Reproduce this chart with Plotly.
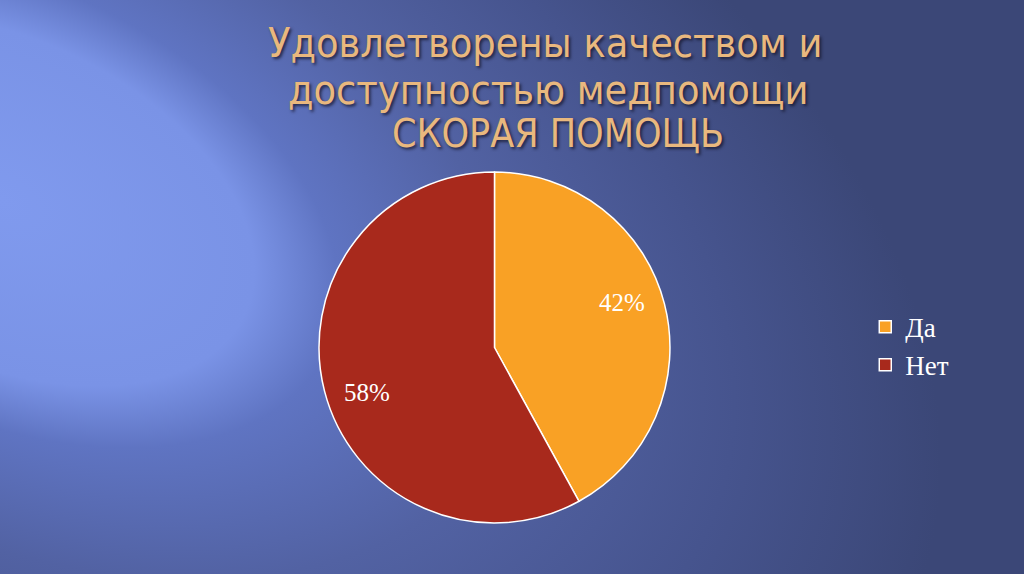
import math
import plotly.graph_objects as go
import urllib.parse

labels = ["Да", "Нет"]
values = [42, 58]
colors = ["#F9A125", "#A8291C"]
title_lines = ["Удовлетворены качеством и", "доступностью медпомощи", "СКОРАЯ ПОМОЩЬ"]

svg = """<svg xmlns='http://www.w3.org/2000/svg' width='1024' height='574' viewBox='0 0 1024 574' preserveAspectRatio='none'>
<defs>
<radialGradient id='g' gradientUnits='userSpaceOnUse' cx='0' cy='200' r='1000'
 gradientTransform='translate(0 200) rotate(25) scale(1 0.6) translate(0 -200)'>
<stop offset='0' stop-color='#809aee'/>
<stop offset='0.27' stop-color='#7a93e6'/>
<stop offset='0.36' stop-color='#5f74c2'/>
<stop offset='0.55' stop-color='#5262a3'/>
<stop offset='0.78' stop-color='#46548e'/>
<stop offset='1' stop-color='#3b4777'/>
</radialGradient>
</defs>
<rect width='1024' height='574' fill='url(#g)'/>
</svg>"""
bg_uri = "data:image/svg+xml;charset=utf-8," + urllib.parse.quote(svg)

dom_x = [0.3115, 0.6543]
dom_y = [0.0889, 0.7003]
W, H = 1024, 574

fig = go.Figure()
fig.add_trace(go.Pie(
    labels=labels,
    values=values,
    sort=False,
    direction="clockwise",
    rotation=0,
    marker=dict(colors=colors, line=dict(color="white", width=1.5)),
    textinfo="none",
    domain=dict(x=dom_x, y=dom_y),
    hoverinfo="label+percent",
))

# percent labels placed near slice mid-angles, derived from the values
cx = (dom_x[0] + dom_x[1]) / 2
cy = (dom_y[0] + dom_y[1]) / 2
R = (dom_x[1] - dom_x[0]) * W / 2
total = sum(values)
annotations = []
cum = 0
for v in values:
    mid = (cum + v / 2) / total * 2 * math.pi - math.radians(5)
    cum += v
    dxp = math.sin(mid) * R * 0.77
    dyp = math.cos(mid) * R * 0.77
    annotations.append(dict(
        x=cx + dxp / W, y=cy + dyp / H, xref="paper", yref="paper",
        xanchor="center", yanchor="middle",
        text=f"{round(v / total * 100)}%", showarrow=False,
        font=dict(family="Liberation Serif", size=25, color="white"),
    ))

title_font = "DejaVu Sans Condensed, Liberation Sans Narrow, Arial Narrow, sans-serif"
title_y = [43, 90, 133]
title_x = [545, 548, 558]
title_size = [41, 41, 39]
for t, yy, xx, sz in zip(title_lines, title_y, title_x, title_size):
    annotations.append(dict(
        x=xx / W, y=1 - yy / H, xref="paper", yref="paper",
        xanchor="center", yanchor="middle", text=t, showarrow=False,
        font=dict(family=title_font, size=sz, color="#E9B87E",
                  shadow="2px 2px 3px rgba(20,20,40,0.75)"),
    ))

fig.update_layout(
    width=W, height=H,
    margin=dict(l=0, r=0, t=0, b=0),
    paper_bgcolor="#4a5a98",
    plot_bgcolor="rgba(0,0,0,0)",
    images=[dict(source=bg_uri, xref="paper", yref="paper", x=0, y=1,
                 sizex=1, sizey=1, sizing="stretch", layer="below")],
    annotations=annotations,
    legend=dict(
        x=0.845, y=0.397, xanchor="left", yanchor="middle",
        font=dict(family="Liberation Serif", size=27, color="white"),
        bgcolor="rgba(0,0,0,0)",
    ),
)

fig.write_html("out.html", config={"displayModeBar": False},
               post_script="document.body.style.margin='0';")
